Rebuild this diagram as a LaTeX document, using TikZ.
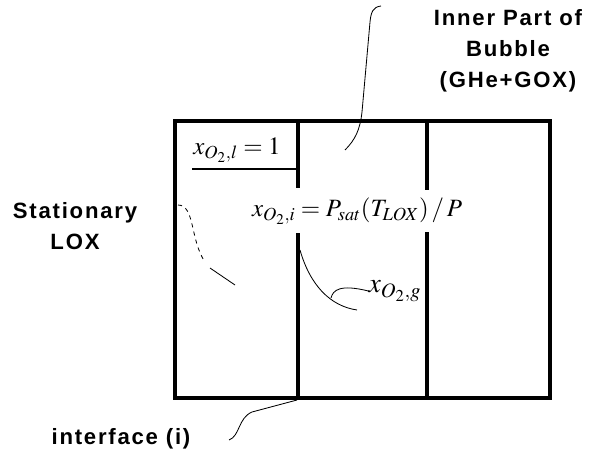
\documentclass[tikz,border=0pt]{standalone}
\usepackage{mathptmx}
\usepackage{fontspec}
\newfontfamily\labelfont{Liberation Sans}[LetterSpace=8]
\usepackage{tikz}
\usetikzlibrary{calc, positioning}

\begin{document}
\begin{tikzpicture}[x=0.0254cm, y=-0.0254cm, label/.style={font=\labelfont\bfseries\fontsize{16}{22.5}\selectfont, align=center, inner sep=0pt}, eqn/.style={font=\fontsize{18}{20}\selectfont, inner sep=0pt}, wall/.style={line width=2.2pt}, leader/.style={line width=0.6pt}]
      \useasboundingbox (0,0) rectangle (592,461);
      % cell walls
      \draw[wall] (175,121) rectangle (550,398);
      \draw[wall] (298,121) -- (298,188) (298,233) -- (298,398);
      \draw[wall] (427,121) -- (427,190) (427,232) -- (427,398);
      \draw[line width=1pt] (192,169) -- (298,169);
      % texts
      \node[eqn] (xl) at (237,150) {$x_{O_2,l}=1$};
      \node[eqn] (eq) at (357,211) {$x_{O_2,i}=P_{sat}(T_{LOX})\,/\,P$};
      \node[eqn, font=\fontsize{20}{22}\selectfont] (xg) at (395,291) {$x_{O_2,g}$};
      \node[label] (inner) at (508,51) {Inner Part of\\Bubble\\(GHe+GOX)};
      \node[label] (lox) at (75,226) {Stationary\\LOX};
      \node[label] (iface) at (121,439) {interface (i)};
      % leaders
      \coordinate (pin) at (345,150);
      \coordinate (plox) at (235,285);
      \coordinate (pif) at (297,400);
      \coordinate (pg) at (357,310);
      \draw[leader] (381,6) .. controls (373,7) and (371,12) .. (370,22) -- (362,112) .. controls (360,130) and (355,140) .. (pin);
      \draw[leader, dashed] (178,205) .. controls (195,205) and (190,240) .. (205,262);
      \draw[leader] (210,268) -- (plox);
      \draw[leader] (pif) -- (252,412) .. controls (238,418) and (240,436) .. (229,440);
      \draw[leader] (300,250) .. controls (310,285) and (330,306) .. (pg);
      \draw[leader] (xg.west) .. controls (340,284) and (333,290) .. (331,298);
    \end{tikzpicture}
\end{document}
